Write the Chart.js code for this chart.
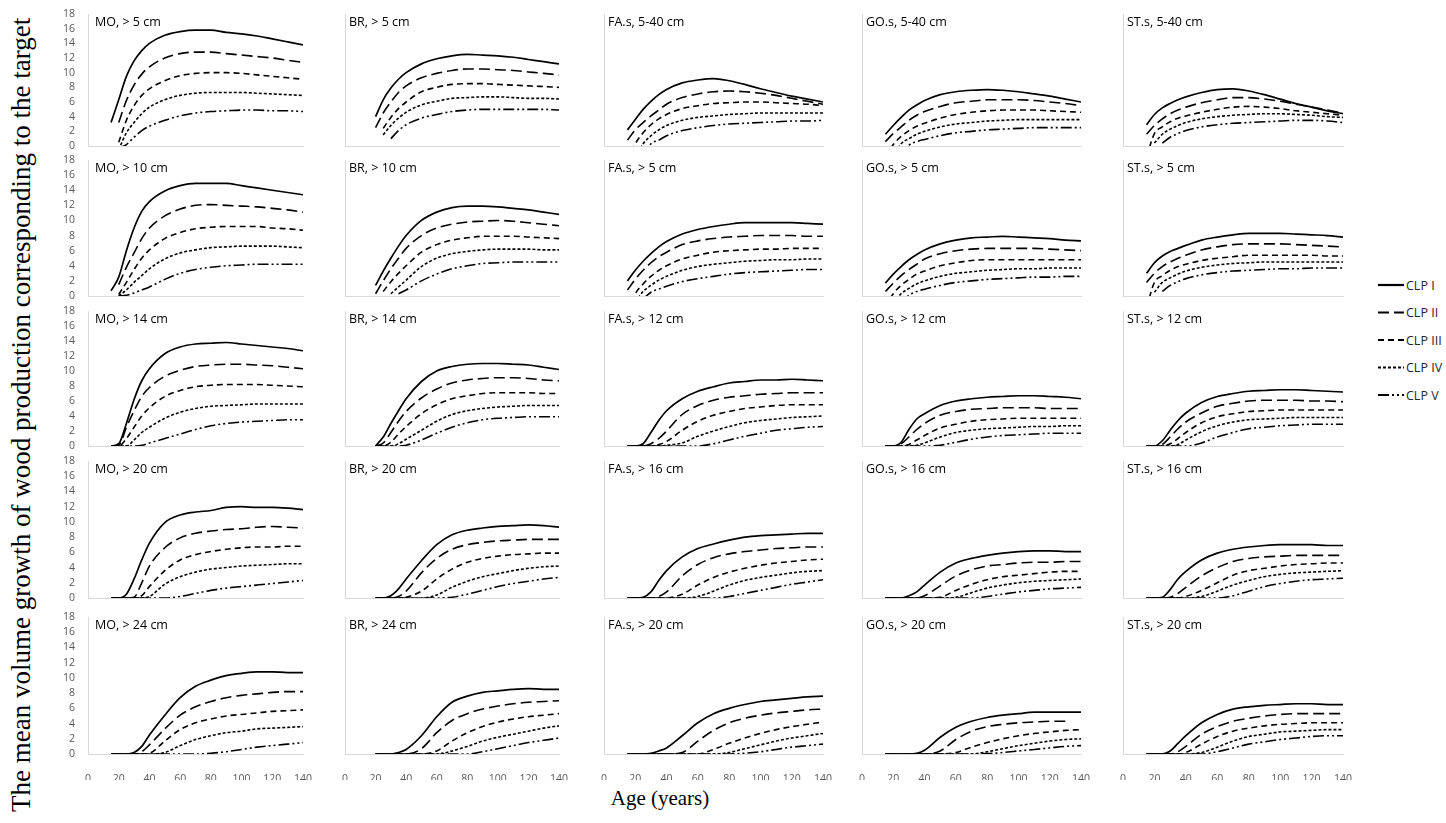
<!DOCTYPE html>
<html>
<head>
<meta charset="utf-8">
<script src="https://cdn.jsdelivr.net/npm/chart.js@4.4.1/dist/chart.umd.min.js"></script>
<style>
  html, body { margin: 0; padding: 0; background: #fff; }
  body { width: 1446px; height: 823px; position: relative; overflow: hidden; }
  canvas.panel { position: absolute; }
  #ytitle {
    position: absolute; left: 7px; top: 812px;
    transform-origin: 0 0; transform: rotate(-90deg);
    font: 27px 'Liberation Serif', 'Times New Roman', serif;
    line-height: 28px; white-space: nowrap; color: #000;
  }
  #xtitle {
    position: absolute; left: 560px; width: 200px; top: 786px; text-align: center;
    font: 21px 'Liberation Serif', 'Times New Roman', serif; color: #000;
  }
  #legend { position: absolute; left: 1378px; top: 270px; }
</style>
</head>
<body>
<div id="ytitle">The mean volume growth of wood production corresponding to the target</div>
<div id="xtitle">Age (years)</div>
<svg id="legend" width="68" height="140"></svg>

<script>
// Alter (Jahre), gemeinsame x-Werte aller Panels
const ages = [15, 20, 25, 30, 35, 40, 50, 60, 70, 80, 90, 100, 110, 120, 130, 140];
const classes = ['CLP I', 'CLP II', 'CLP III', 'CLP IV', 'CLP V'];
const n = null;

// Zeile 1
const MO_5 = [
  [3.2, 6.3, 9.5, 11.6, 13.0, 14.0, 15.1, 15.6, 15.8, 15.8, 15.5, 15.3, 15.0, 14.6, 14.2, 13.8],
  [n, 3.2, 6.2, 8.3, 9.8, 10.8, 12.0, 12.6, 12.8, 12.8, 12.6, 12.4, 12.2, 12.0, 11.7, 11.4],
  [n, 0.5, 3.5, 5.5, 6.9, 7.8, 8.9, 9.6, 9.9, 10.0, 10.0, 9.9, 9.7, 9.5, 9.3, 9.1],
  [n, -0.5, 1.8, 3.2, 4.4, 5.3, 6.3, 6.9, 7.2, 7.3, 7.3, 7.3, 7.2, 7.1, 7.0, 6.9],
  [n, -0.3, 0.2, 1.2, 2.1, 2.7, 3.5, 4.1, 4.5, 4.7, 4.8, 4.9, 4.9, 4.8, 4.8, 4.7]
];
const BR_5 = [
  [n, 4.0, 6.3, 7.9, 9.1, 10.0, 11.2, 11.9, 12.3, 12.5, 12.4, 12.3, 12.1, 11.8, 11.5, 11.2],
  [n, 2.5, 4.5, 6.0, 7.3, 8.2, 9.3, 9.9, 10.3, 10.5, 10.5, 10.4, 10.3, 10.1, 9.9, 9.7],
  [n, n, 2.4, 3.9, 5.1, 6.0, 7.4, 8.0, 8.4, 8.5, 8.5, 8.4, 8.3, 8.2, 8.1, 8.0],
  [n, n, 1.5, 2.8, 3.8, 4.6, 5.6, 6.1, 6.5, 6.6, 6.7, 6.7, 6.6, 6.5, 6.5, 6.4],
  [n, n, n, 1.0, 2.1, 2.9, 3.8, 4.3, 4.7, 4.9, 5.0, 5.0, 5.0, 5.0, 5.0, 4.9]
];
const FA_540 = [
  [2.2, 3.6, 5.0, 6.1, 7.0, 7.7, 8.6, 9.0, 9.2, 8.9, 8.4, 7.8, 7.3, 6.8, 6.4, 6.0],
  [0.8, 2.2, 3.2, 4.1, 4.9, 5.7, 6.6, 7.1, 7.4, 7.5, 7.4, 7.2, 6.9, 6.5, 6.1, 5.7],
  [-2.0, 0.3, 1.8, 2.9, 3.7, 4.3, 5.1, 5.5, 5.8, 5.9, 6.0, 6.0, 5.9, 5.8, 5.7, 5.5],
  [n, -1.5, 0.3, 1.4, 2.2, 2.8, 3.5, 3.9, 4.1, 4.3, 4.4, 4.5, 4.5, 4.5, 4.5, 4.5],
  [n, n, -1.5, 0.3, 0.8, 1.4, 2.1, 2.5, 2.8, 3.0, 3.1, 3.2, 3.3, 3.4, 3.4, 3.5]
];
const GO_540 = [
  [1.6, 2.8, 3.9, 4.9, 5.6, 6.2, 7.0, 7.4, 7.6, 7.7, 7.6, 7.4, 7.1, 6.8, 6.4, 6.0],
  [0.6, 1.7, 2.6, 3.5, 4.2, 4.7, 5.4, 5.9, 6.1, 6.3, 6.3, 6.3, 6.2, 6.0, 5.8, 5.5],
  [-1.5, 0.2, 1.3, 2.1, 2.7, 3.1, 3.8, 4.3, 4.6, 4.8, 4.9, 4.9, 4.9, 4.8, 4.7, 4.6],
  [n, -1.5, 0.3, 1.0, 1.6, 2.0, 2.6, 3.0, 3.2, 3.4, 3.5, 3.6, 3.6, 3.6, 3.6, 3.6],
  [n, n, -1.5, 0.1, 0.6, 0.9, 1.4, 1.8, 2.0, 2.2, 2.3, 2.4, 2.5, 2.5, 2.5, 2.5]
];
const ST_540 = [
  [2.9, 4.3, 5.2, 5.8, 6.3, 6.7, 7.3, 7.7, 7.8, 7.5, 7.0, 6.4, 5.8, 5.3, 4.8, 4.4],
  [1.6, 2.8, 3.7, 4.4, 4.9, 5.3, 5.9, 6.3, 6.6, 6.6, 6.4, 6.1, 5.7, 5.3, 4.9, 4.5],
  [-1.5, 1.7, 2.6, 3.3, 3.8, 4.1, 4.6, 5.0, 5.3, 5.4, 5.3, 5.1, 4.8, 4.6, 4.4, 4.2],
  [n, 0.4, 1.6, 2.3, 2.8, 3.2, 3.7, 4.0, 4.2, 4.3, 4.4, 4.4, 4.3, 4.2, 4.0, 3.9],
  [n, n, 0.4, 1.2, 1.7, 2.1, 2.6, 2.9, 3.1, 3.2, 3.3, 3.4, 3.5, 3.5, 3.4, 3.2]
];

// Zeile 2
const MO_10 = [
  [0.7, 2.5, 6.0, 9.0, 11.2, 12.5, 13.9, 14.6, 14.9, 14.9, 14.9, 14.6, 14.3, 14.0, 13.7, 13.4],
  [n, 1.5, 3.8, 5.7, 7.6, 9.0, 10.6, 11.5, 12.0, 12.1, 12.0, 11.9, 11.8, 11.6, 11.4, 11.1],
  [n, 0.2, 1.8, 3.5, 5.0, 6.1, 7.6, 8.4, 8.9, 9.1, 9.2, 9.2, 9.2, 9.0, 8.9, 8.7],
  [n, 0, 0.8, 1.8, 2.7, 3.6, 4.9, 5.7, 6.1, 6.4, 6.5, 6.6, 6.6, 6.6, 6.5, 6.4],
  [n, 0, 0.1, 0.4, 0.8, 1.2, 2.2, 3.0, 3.5, 3.8, 4.0, 4.1, 4.2, 4.2, 4.2, 4.2]
];
const BR_10 = [
  [n, 1.4, 3.3, 5.0, 6.6, 8.0, 10.0, 11.1, 11.7, 11.9, 11.9, 11.8, 11.6, 11.4, 11.1, 10.8],
  [n, 0.3, 2.0, 3.6, 5.0, 6.3, 8.0, 9.0, 9.5, 9.8, 9.9, 10.0, 9.9, 9.7, 9.5, 9.3],
  [n, n, 0.6, 1.9, 3.0, 4.0, 5.8, 6.8, 7.4, 7.7, 7.9, 7.9, 7.9, 7.8, 7.7, 7.6],
  [n, n, n, 0.3, 1.2, 2.1, 3.9, 5.0, 5.6, 5.9, 6.1, 6.2, 6.2, 6.2, 6.1, 6.1],
  [n, n, n, n, 0.3, 0.8, 2.0, 2.9, 3.6, 4.0, 4.3, 4.4, 4.5, 4.5, 4.5, 4.5]
];
const FA_5 = [
  [2.0, 3.4, 4.6, 5.6, 6.5, 7.2, 8.2, 8.8, 9.2, 9.5, 9.7, 9.7, 9.7, 9.7, 9.6, 9.5],
  [0.8, 2.2, 3.4, 4.4, 5.2, 5.8, 6.8, 7.3, 7.6, 7.8, 7.9, 8.0, 8.0, 8.0, 7.9, 7.9],
  [-2.0, 0.3, 1.6, 2.6, 3.4, 4.0, 4.9, 5.4, 5.8, 6.0, 6.1, 6.2, 6.2, 6.3, 6.3, 6.3],
  [n, -0.8, 0.6, 1.4, 2.1, 2.6, 3.4, 3.9, 4.2, 4.4, 4.6, 4.7, 4.8, 4.8, 4.9, 4.9],
  [n, n, -0.4, 0.5, 0.9, 1.3, 1.9, 2.3, 2.6, 2.9, 3.1, 3.2, 3.3, 3.4, 3.5, 3.5]
];
const GO_5 = [
  [1.7, 2.9, 3.9, 4.8, 5.5, 6.1, 6.9, 7.4, 7.7, 7.8, 7.9, 7.8, 7.7, 7.6, 7.4, 7.3],
  [0.6, 1.7, 2.7, 3.5, 4.2, 4.9, 5.6, 6.0, 6.2, 6.3, 6.3, 6.3, 6.3, 6.2, 6.1, 6.0],
  [-1.5, 0.3, 1.4, 2.2, 2.9, 3.3, 4.0, 4.4, 4.7, 4.8, 4.8, 4.8, 4.8, 4.8, 4.8, 4.8],
  [n, -1.0, 0.3, 1.0, 1.6, 2.0, 2.6, 3.0, 3.2, 3.4, 3.5, 3.6, 3.6, 3.7, 3.7, 3.7],
  [n, n, -1.0, 0.1, 0.6, 0.9, 1.4, 1.8, 2.0, 2.2, 2.3, 2.4, 2.5, 2.5, 2.6, 2.6]
];
const ST_5 = [
  [3.0, 4.4, 5.3, 5.9, 6.3, 6.7, 7.4, 7.8, 8.1, 8.3, 8.3, 8.3, 8.2, 8.1, 8.0, 7.8],
  [1.8, 3.0, 3.9, 4.5, 5.0, 5.4, 6.1, 6.5, 6.8, 6.9, 6.9, 6.9, 6.8, 6.7, 6.6, 6.5],
  [-1.5, 1.8, 2.7, 3.4, 3.9, 4.2, 4.7, 5.0, 5.2, 5.4, 5.4, 5.4, 5.4, 5.4, 5.3, 5.3],
  [n, 0.5, 1.8, 2.4, 2.9, 3.3, 3.8, 4.1, 4.3, 4.4, 4.5, 4.5, 4.5, 4.5, 4.5, 4.5],
  [n, n, 0.6, 1.4, 1.9, 2.3, 2.8, 3.1, 3.3, 3.4, 3.5, 3.6, 3.6, 3.7, 3.7, 3.7]
];

// Zeile 3
const MO_14 = [
  [0, 0.3, 3.0, 6.2, 8.7, 10.3, 12.3, 13.2, 13.6, 13.7, 13.8, 13.6, 13.4, 13.2, 13.0, 12.7],
  [0, 0.1, 2.5, 4.7, 6.6, 7.8, 9.3, 10.1, 10.6, 10.8, 10.9, 10.9, 10.8, 10.7, 10.5, 10.3],
  [0, 0, 1.0, 2.5, 4.0, 5.1, 6.6, 7.4, 7.9, 8.1, 8.2, 8.2, 8.2, 8.1, 8.0, 7.9],
  [0, 0, 0, 0.8, 1.8, 2.5, 3.7, 4.5, 5.0, 5.3, 5.4, 5.5, 5.6, 5.6, 5.6, 5.6],
  [0, 0, 0, 0, 0.1, 0.4, 1.0, 1.6, 2.2, 2.7, 3.0, 3.2, 3.3, 3.4, 3.5, 3.5]
];
const BR_14 = [
  [n, 0, 1.2, 3.0, 4.7, 6.3, 8.6, 10.0, 10.6, 10.9, 11.0, 11.0, 10.9, 10.8, 10.5, 10.2],
  [n, 0, 0.4, 1.8, 3.3, 4.6, 6.4, 7.6, 8.4, 8.8, 9.0, 9.1, 9.1, 9.0, 8.8, 8.7],
  [n, 0, 0, 0.5, 1.6, 2.6, 4.3, 5.5, 6.3, 6.7, 7.0, 7.1, 7.1, 7.1, 7.0, 7.0],
  [n, 0, 0, 0, 0.3, 0.9, 2.1, 3.3, 4.2, 4.7, 5.0, 5.2, 5.3, 5.4, 5.4, 5.4],
  [n, 0, 0, 0, 0, 0.1, 0.8, 1.7, 2.5, 3.1, 3.5, 3.7, 3.8, 3.9, 3.9, 3.9]
];
const FA_12 = [
  [0, 0, 0.3, 1.8, 3.4, 4.7, 6.3, 7.3, 7.9, 8.4, 8.6, 8.8, 8.8, 8.9, 8.8, 8.7],
  [0, 0, 0, 0.3, 1.0, 2.0, 4.2, 5.4, 6.1, 6.5, 6.7, 6.9, 7.0, 7.1, 7.1, 7.1],
  [0, 0, 0, 0, 0.2, 0.6, 2.1, 3.3, 4.1, 4.6, 5.0, 5.2, 5.4, 5.5, 5.5, 5.5],
  [0, 0, 0, 0, 0, 0.1, 0.4, 1.3, 2.0, 2.6, 3.1, 3.4, 3.6, 3.8, 3.9, 4.0],
  [0, 0, 0, 0, 0, 0, 0, 0, 0.3, 0.8, 1.3, 1.7, 2.1, 2.3, 2.5, 2.6]
];
const GO_12 = [
  [0, 0, 0.5, 2.2, 3.6, 4.3, 5.4, 6.0, 6.3, 6.5, 6.6, 6.7, 6.7, 6.6, 6.5, 6.3],
  [0, 0, 0.3, 1.2, 2.2, 3.0, 4.1, 4.6, 4.9, 5.0, 5.1, 5.1, 5.1, 5.0, 5.0, 5.0],
  [0, 0, 0, 0.2, 0.8, 1.4, 2.4, 2.9, 3.3, 3.5, 3.6, 3.7, 3.7, 3.7, 3.7, 3.7],
  [0, 0, 0, 0, 0.1, 0.4, 1.2, 1.8, 2.1, 2.3, 2.4, 2.5, 2.6, 2.6, 2.7, 2.7],
  [0, 0, 0, 0, 0, 0, 0.1, 0.5, 0.9, 1.2, 1.4, 1.5, 1.6, 1.7, 1.7, 1.7]
];
const ST_12 = [
  [0, 0, 0.7, 2.1, 3.4, 4.4, 5.8, 6.6, 7.0, 7.3, 7.4, 7.5, 7.5, 7.4, 7.3, 7.2],
  [0, 0, 0.2, 1.2, 2.3, 3.2, 4.4, 5.3, 5.7, 6.0, 6.1, 6.1, 6.1, 6.0, 6.0, 5.9],
  [0, 0, 0, 0.3, 1.0, 1.8, 3.1, 3.9, 4.3, 4.6, 4.7, 4.8, 4.8, 4.8, 4.8, 4.8],
  [0, 0, 0, 0, 0.2, 0.8, 1.9, 2.7, 3.2, 3.5, 3.6, 3.7, 3.8, 3.8, 3.8, 3.8],
  [0, 0, 0, 0, 0, 0, 0.4, 1.2, 1.8, 2.3, 2.5, 2.7, 2.8, 2.9, 2.9, 2.9]
];

// Zeile 4
const MO_20 = [
  [0, 0, 0.5, 2.5, 5.0, 7.2, 9.9, 10.9, 11.3, 11.5, 11.9, 12.0, 11.9, 11.9, 11.8, 11.6],
  [0, 0, 0, 0.1, 2.0, 4.2, 6.6, 7.9, 8.5, 8.8, 9.0, 9.1, 9.3, 9.4, 9.3, 9.2],
  [0, 0, 0, 0, 0.3, 1.5, 3.6, 5.0, 5.7, 6.1, 6.4, 6.6, 6.7, 6.7, 6.8, 6.8],
  [0, 0, 0, 0, 0, 0.2, 1.8, 2.8, 3.4, 3.8, 4.0, 4.2, 4.3, 4.4, 4.5, 4.5],
  [0, 0, 0, 0, 0, 0, 0, 0.2, 0.6, 1.0, 1.3, 1.5, 1.7, 1.9, 2.1, 2.3]
];
const BR_20 = [
  [n, 0, 0, 0.3, 1.2, 2.5, 4.9, 7.0, 8.3, 8.9, 9.2, 9.4, 9.5, 9.6, 9.5, 9.3],
  [n, 0, 0, 0, 0.2, 0.9, 3.3, 5.2, 6.4, 7.0, 7.3, 7.5, 7.6, 7.7, 7.7, 7.7],
  [n, 0, 0, 0, 0, 0.1, 0.9, 2.5, 3.8, 4.7, 5.2, 5.5, 5.7, 5.8, 5.9, 5.9],
  [n, 0, 0, 0, 0, 0, 0, 0.4, 1.4, 2.2, 2.8, 3.2, 3.6, 3.9, 4.1, 4.2],
  [n, 0, 0, 0, 0, 0, 0, 0, 0.1, 0.5, 1.0, 1.5, 1.9, 2.2, 2.5, 2.7]
];
const FA_16 = [
  [0, 0, 0.1, 0.8, 2.3, 3.6, 5.4, 6.5, 7.1, 7.6, 8.0, 8.2, 8.3, 8.4, 8.5, 8.5],
  [0, 0, 0, 0, 0.2, 0.8, 2.9, 4.4, 5.3, 5.8, 6.1, 6.3, 6.5, 6.6, 6.7, 6.7],
  [0, 0, 0, 0, 0, 0, 0.5, 1.7, 2.7, 3.4, 3.9, 4.3, 4.6, 4.8, 5.0, 5.1],
  [0, 0, 0, 0, 0, 0, 0, 0.2, 0.9, 1.7, 2.3, 2.7, 3.0, 3.3, 3.5, 3.6],
  [0, 0, 0, 0, 0, 0, 0, 0, 0, 0.2, 0.6, 1.0, 1.4, 1.8, 2.1, 2.4]
];
const GO_16 = [
  [0, 0, 0, 0.3, 0.8, 1.7, 3.4, 4.6, 5.2, 5.6, 5.9, 6.1, 6.2, 6.2, 6.1, 6.1],
  [0, 0, 0, 0, 0, 0.3, 1.6, 2.9, 3.7, 4.2, 4.4, 4.6, 4.7, 4.7, 4.8, 4.8],
  [0, 0, 0, 0, 0, 0, 0.1, 1.0, 1.8, 2.4, 2.8, 3.0, 3.2, 3.4, 3.5, 3.5],
  [0, 0, 0, 0, 0, 0, 0, 0.1, 0.7, 1.3, 1.7, 2.0, 2.2, 2.3, 2.4, 2.5],
  [0, 0, 0, 0, 0, 0, 0, 0, 0, 0.2, 0.5, 0.8, 1.0, 1.2, 1.3, 1.4]
];
const ST_16 = [
  [0, 0, 0.1, 1.1, 2.5, 3.5, 5.0, 5.9, 6.4, 6.7, 6.9, 7.0, 7.0, 7.0, 6.9, 6.9],
  [0, 0, 0, 0.1, 0.6, 1.4, 2.9, 4.0, 4.8, 5.2, 5.4, 5.5, 5.6, 5.6, 5.6, 5.6],
  [0, 0, 0, 0, 0, 0.2, 1.0, 2.0, 3.0, 3.6, 3.9, 4.2, 4.4, 4.5, 4.6, 4.6],
  [0, 0, 0, 0, 0, 0, 0.2, 0.9, 1.7, 2.3, 2.8, 3.1, 3.3, 3.4, 3.5, 3.6],
  [0, 0, 0, 0, 0, 0, 0, 0, 0.3, 0.9, 1.5, 1.9, 2.2, 2.4, 2.5, 2.6]
];

// Zeile 5
const MO_24 = [
  [0, 0, 0, 0.2, 1.0, 2.5, 5.1, 7.4, 8.9, 9.7, 10.3, 10.6, 10.8, 10.8, 10.7, 10.7],
  [0, 0, 0, 0, 0.3, 1.2, 3.3, 5.1, 6.2, 6.9, 7.4, 7.7, 7.9, 8.1, 8.2, 8.2],
  [0, 0, 0, 0, 0, 0.1, 1.7, 3.2, 4.1, 4.6, 5.0, 5.2, 5.4, 5.6, 5.7, 5.8],
  [0, 0, 0, 0, 0, 0, 0.2, 1.1, 1.9, 2.4, 2.8, 3.0, 3.3, 3.4, 3.5, 3.6],
  [0, 0, 0, 0, 0, 0, 0, 0, 0, 0.1, 0.3, 0.6, 0.9, 1.1, 1.3, 1.5]
];
const BR_24 = [
  [n, 0, 0, 0, 0.2, 0.6, 2.4, 4.9, 6.8, 7.6, 8.1, 8.3, 8.5, 8.6, 8.5, 8.5],
  [n, 0, 0, 0, 0, 0, 0.7, 2.8, 4.4, 5.3, 5.9, 6.3, 6.6, 6.8, 6.9, 7.0],
  [n, 0, 0, 0, 0, 0, 0, 0.4, 1.7, 2.8, 3.6, 4.2, 4.6, 4.9, 5.1, 5.3],
  [n, 0, 0, 0, 0, 0, 0, 0, 0.4, 1.0, 1.7, 2.2, 2.6, 3.0, 3.4, 3.7],
  [n, 0, 0, 0, 0, 0, 0, 0, 0, 0, 0.3, 0.7, 1.1, 1.5, 1.8, 2.1]
];
const FA_20 = [
  [0, 0, 0, 0.1, 0.4, 0.8, 2.4, 4.1, 5.3, 6.0, 6.5, 6.9, 7.1, 7.3, 7.5, 7.6],
  [0, 0, 0, 0, 0, 0, 0.2, 1.7, 3.1, 4.1, 4.7, 5.1, 5.4, 5.6, 5.8, 5.9],
  [0, 0, 0, 0, 0, 0, 0, 0, 0.6, 1.4, 2.1, 2.7, 3.2, 3.6, 3.9, 4.2],
  [0, 0, 0, 0, 0, 0, 0, 0, 0, 0.2, 0.7, 1.2, 1.7, 2.1, 2.4, 2.7],
  [0, 0, 0, 0, 0, 0, 0, 0, 0, 0, 0.1, 0.3, 0.6, 0.9, 1.1, 1.3]
];
const GO_20 = [
  [0, 0, 0, 0, 0.1, 0.5, 2.2, 3.5, 4.3, 4.8, 5.1, 5.3, 5.5, 5.5, 5.5, 5.5],
  [0, 0, 0, 0, 0, 0, 0.4, 1.9, 3.0, 3.6, 3.9, 4.1, 4.2, 4.3, 4.3, n],
  [0, 0, 0, 0, 0, 0, 0, 0.2, 0.9, 1.5, 2.0, 2.4, 2.7, 2.9, 3.1, 3.2],
  [0, 0, 0, 0, 0, 0, 0, 0, 0, 0.3, 0.7, 1.1, 1.4, 1.7, 1.9, 2.0],
  [0, 0, 0, 0, 0, 0, 0, 0, 0, 0.05, 0.2, 0.4, 0.6, 0.8, 1.0, 1.1]
];
const ST_20 = [
  [0, 0, 0, 0.4, 1.4, 2.4, 4.1, 5.2, 5.9, 6.2, 6.4, 6.5, 6.6, 6.6, 6.5, 6.5],
  [0, 0, 0, 0, 0.3, 1.0, 2.6, 3.6, 4.3, 4.7, 5.0, 5.2, 5.3, 5.3, 5.3, 5.3],
  [0, 0, 0, 0, 0, 0.2, 1.3, 2.3, 3.0, 3.4, 3.7, 3.9, 4.0, 4.1, 4.1, 4.1],
  [0, 0, 0, 0, 0, 0, 0.2, 0.9, 1.7, 2.3, 2.6, 2.9, 3.0, 3.1, 3.2, 3.2],
  [0, 0, 0, 0, 0, 0, 0, 0.3, 0.8, 1.3, 1.6, 1.9, 2.1, 2.3, 2.4, 2.4]
];

const panelTitles = [
  ['MO, > 5 cm', 'BR, > 5 cm', 'FA.s, 5-40 cm', 'GO.s, 5-40 cm', 'ST.s, 5-40 cm'],
  ['MO, > 10 cm', 'BR, > 10 cm', 'FA.s, > 5 cm', 'GO.s, > 5 cm', 'ST.s, > 5 cm'],
  ['MO, > 14 cm', 'BR, > 14 cm', 'FA.s, > 12 cm', 'GO.s, > 12 cm', 'ST.s, > 12 cm'],
  ['MO, > 20 cm', 'BR, > 20 cm', 'FA.s, > 16 cm', 'GO.s, > 16 cm', 'ST.s, > 16 cm'],
  ['MO, > 24 cm', 'BR, > 24 cm', 'FA.s, > 20 cm', 'GO.s, > 20 cm', 'ST.s, > 20 cm']
];
const panelData = [
  [MO_5, BR_5, FA_540, GO_540, ST_540],
  [MO_10, BR_10, FA_5, GO_5, ST_5],
  [MO_14, BR_14, FA_12, GO_12, ST_12],
  [MO_20, BR_20, FA_16, GO_16, ST_16],
  [MO_24, BR_24, FA_20, GO_20, ST_20]
];

// Layout der Plotflächen (Pixel)
const colLeft = [88, 345, 604, 862, 1123];
const colWidth = [215, 214, 219, 219, 220];
const rowTop = [14, 160, 311, 461, 617];
const rowBottom = [146, 296, 446, 598, 754];
const AXIS_W = 40, AXIS_H = 26, PAD = 10;

const dashes = [[], [11, 5], [6, 4], [3, 2], [11, 3, 2, 3, 2, 3]];

Chart.defaults.font.family = "'Open Sans', sans-serif";
Chart.defaults.animation = false;

const panelLabel = {
  id: 'panelLabel',
  afterDraw(chart, args, opts) {
    const { ctx, chartArea } = chart;
    ctx.save();
    ctx.font = "12.5px 'Open Sans', sans-serif";
    ctx.fillStyle = '#000';
    ctx.textBaseline = 'middle';
    ctx.fillText(opts.text, chartArea.left + opts.dx, chartArea.top + 8);
    ctx.restore();
  }
};

function buildPanel(r, c) {
  const canvas = document.createElement('canvas');
  canvas.className = 'panel';
  const w = colWidth[c] + AXIS_W + PAD;
  const h = rowBottom[r] - rowTop[r] + AXIS_H + PAD;
  canvas.width = w;
  canvas.height = h;
  canvas.style.left = (colLeft[c] - AXIS_W) + 'px';
  canvas.style.top = (rowTop[r] - PAD) + 'px';
  canvas.style.width = w + 'px';
  canvas.style.height = h + 'px';
  document.body.appendChild(canvas);

  const series = panelData[r][c];
  const datasets = series.map((vals, i) => ({
    label: classes[i],
    data: ages.map((a, k) => ({ x: a, y: vals[k] })),
    borderColor: '#000',
    borderWidth: i === 0 ? 1.7 : 1.6,
    borderDash: dashes[i],
    pointRadius: 0,
    cubicInterpolationMode: 'monotone',
    fill: false
  }));

  new Chart(canvas, {
    type: 'line',
    data: { datasets },
    options: {
      responsive: false,
      layout: { padding: { top: PAD, right: PAD, left: 0, bottom: 0 } },
      plugins: {
        legend: { display: false },
        tooltip: { enabled: false },
        panelLabel: { text: panelTitles[r][c], dx: c === 0 ? 7 : 4 }
      },
      scales: {
        x: {
          type: 'linear', min: 0, max: 140,
          grid: { display: false },
          border: { display: true, color: '#d9d9d9', width: 1 },
          ticks: { display: r === 4, stepSize: 20, color: '#595959', font: { size: 10.5 }, padding: 11, maxRotation: 0, autoSkip: false },
          afterFit(s) { s.height = AXIS_H; s.paddingLeft = 0; s.paddingRight = 0; }
        },
        y: {
          min: 0, max: 18,
          grid: { display: false },
          border: { display: true, color: '#d9d9d9', width: 1 },
          ticks: { display: c === 0, stepSize: 2, autoSkip: false, color: '#595959', font: { size: 10.5 }, padding: 5 },
          afterFit(s) { s.width = AXIS_W; s.paddingTop = 0; s.paddingBottom = 0; }
        }
      }
    },
    plugins: [panelLabel]
  });
}

for (let r = 0; r < 5; r++) {
  for (let c = 0; c < 5; c++) buildPanel(r, c);
}

// Legende rechts
const svg = document.getElementById('legend');
const NS = 'http://www.w3.org/2000/svg';
classes.forEach((name, i) => {
  const y = 15 + i * 27.5;
  const line = document.createElementNS(NS, 'line');
  line.setAttribute('x1', 0); line.setAttribute('x2', 26);
  line.setAttribute('y1', y); line.setAttribute('y2', y);
  line.setAttribute('stroke', '#000');
  line.setAttribute('stroke-width', 2.2);
  if (dashes[i].length) line.setAttribute('stroke-dasharray', dashes[i].join(' '));
  svg.appendChild(line);
  const t = document.createElementNS(NS, 'text');
  t.setAttribute('x', 28); t.setAttribute('y', y + 4.5);
  t.setAttribute('font-family', "'Open Sans', sans-serif");
  t.setAttribute('font-size', 12.5);
  t.setAttribute('fill', '#262626');
  t.textContent = name;
  svg.appendChild(t);
});
</script>
</body>
</html>
